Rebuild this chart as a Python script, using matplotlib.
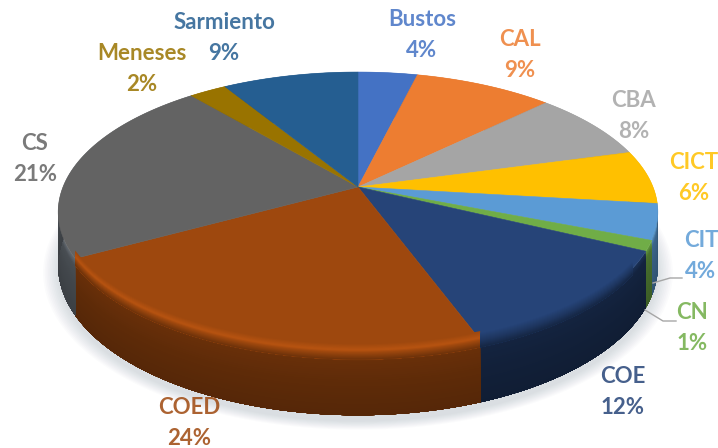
#!/usr/bin/env python3
# Pastel 3D con perspectiva, dibujado con polígonos a partir de los valores

import numpy as np
import matplotlib
matplotlib.use("Agg")
import matplotlib.pyplot as plt
from matplotlib.colors import to_rgb

# Datos
names = ["Bustos", "CAL", "CBA", "CICT", "CIT", "CN", "COE", "COED", "CS", "Meneses", "Sarmiento"]
shares = [3.8, 8.9, 8.0, 6.2, 4.1, 1.2, 12.2, 22.6, 21.9, 2.4, 8.7]  # ángulos
percent_labels = ["4%", "9%", "8%", "6%", "4%", "1%", "12%", "24%", "21%", "2%", "9%"]

# Estilo
colors = ["#4472C4", "#ED7D31", "#A5A5A5", "#FFC000", "#5B9BD5", "#70AD47",
          "#264478", "#9E480E", "#636363", "#997300", "#255E91"]
wall_colors = ["#4472C4", "#ED7D31", "#A5A5A5", "#FFC000", "#5B9BD5", "#70AD47",
               "#1E3660", "#9E480E", "#6E767E", "#997300", "#255E91"]
label_pos = [(422, 35), (520, 55), (634, 116), (694, 178), (701, 256), (692, 328),
             (623, 392), (189, 423), (35, 159), (142, 69), (224, 38)]

# Geometría (píxeles)
cx, cy = 358, 187
A, B, k = 295, 135.5, 0.1786
D = 52


def project(t, s=0.0, grow=1.0):
    u, v = np.sin(t), np.cos(t)
    w = 1 + k * v
    x = cx + grow * A * u / w
    y = cy - grow * B * v / w + s * D / w
    return x, y


def shade(color, f):
    return tuple(min(1, c * f) for c in to_rgb(color))


def wall_factor(s):
    return np.interp(s, [0, 0.12, 0.45, 1], [0.88, 0.66, 0.6, 0.54])


def band(ax, t, s0, s1, color, z):
    x0, y0 = project(t, s0)
    x1, y1 = project(t, s1)
    ax.fill(np.r_[x0, x1[::-1]], np.r_[y0, y1[::-1]], color=color, lw=0, zorder=z)


def bevel(ax, t, col, knots, factors):
    # cada banda llega hasta abajo y tapa a la anterior, así no quedan costuras
    levels = np.linspace(knots[0], knots[-1], 16)
    for s0 in levels[:-1]:
        band(ax, t, s0, knots[-1], shade(col, np.interp(s0, knots, factors)), 4)


def main():
    fig = plt.figure(figsize=(7.18, 4.48), dpi=100)
    ax = fig.add_axes([0, 0, 1, 1])
    ax.set_xlim(0, 718)
    ax.set_ylim(448, 0)
    ax.axis("off")

    edges = np.deg2rad(np.cumsum([0] + shares) / sum(shares) * 360)

    # Sombra suave
    t_all = np.linspace(0, 2 * np.pi, 400)
    for g in np.linspace(1.05, 1.0, 10):
        x, y = project(t_all, 1.05, g)
        ax.fill(x, y + 3, color="#8fa0ad", alpha=0.035, lw=0, zorder=1)

    # Paredes: bandas solapadas para el degradado
    strips = np.linspace(0, 1, 30)
    for i, col in enumerate(wall_colors):
        t = np.linspace(edges[i], edges[i + 1], 60)
        for s0 in strips[:-1]:
            band(ax, t, s0, 1, shade(col, wall_factor(s0)), 2)

    # Cara superior
    for i, col in enumerate(colors):
        t = np.linspace(edges[i], edges[i + 1], 80)
        x, y = project(t)
        ax.fill(np.r_[cx, x], np.r_[cy, y], color=col, lw=0.4, zorder=3)

    # Transición suave del borde frontal
    i = names.index("COED")
    t = np.linspace(edges[i], edges[i + 1], 80)
    bevel(ax, t, colors[i], [-0.14, -0.04, 0.0, 0.12], [1.0, 1.16, 1.0, 0.66])
    i = names.index("COE")
    t = np.linspace(edges[i] + 0.12, edges[i + 1], 60)
    bevel(ax, t, colors[i], [-0.12, 0.0, 0.12], [1.0, 0.8, 0.55])

    # Líneas guía
    ax.plot([653, 670, 682], [283, 278, 278], color="#a6a6a6", lw=1, zorder=5)
    ax.plot([645, 663, 676], [310, 321, 321], color="#a6a6a6", lw=1, zorder=5)

    # Etiquetas
    for name, pct, col, (lx, ly) in zip(names, percent_labels, colors, label_pos):
        ax.text(lx, ly, f"{name}\n{pct}", color=shade(col, 1.0), fontsize=16, fontweight="bold",
                family="Lato", ha="center", va="center", linespacing=1.58, alpha=0.85, zorder=6)

    fig.savefig("out.png", dpi=100)


if __name__ == "__main__":
    main()
